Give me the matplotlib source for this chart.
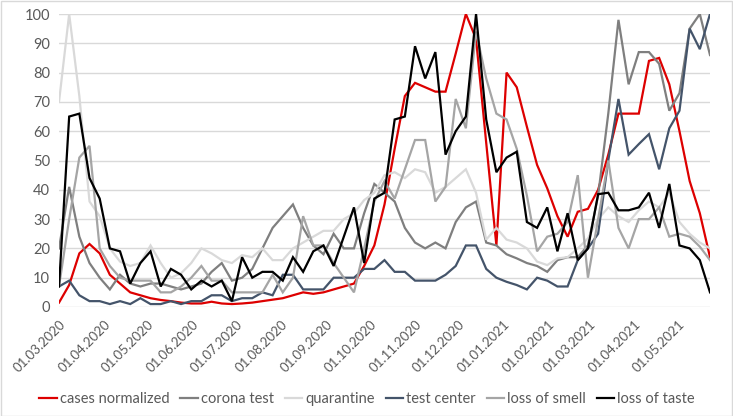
import numpy as np
import pandas as pd
import matplotlib
matplotlib.use("Agg")
import matplotlib.pyplot as plt
import matplotlib.dates as mdates
from matplotlib.patches import Rectangle

dates = pd.date_range("2020-03-01", periods=65, freq="7D")

cases_normalized = [1.5, 7.5, 18.3, 21.5, 18.3, 11, 8, 5, 4, 3, 2.4, 2, 1.5, 1.2, 1.2, 1.8, 1.2, 1.0, 1.2, 1.5,
                    2, 2.5, 3, 4, 5, 4.5, 5, 6, 7, 8, 14, 21, 35, 54, 72, 76.5, 75, 73.5, 73.5, 86.5,
                    100, 91.5, 56, 21, 80, 75, 61.5, 48.5, 40.5, 31, 24, 32.5, 33.5, 40, 52, 66, 66, 66, 84, 85,
                    76, 60, 43, 32, 17]
corona_test = [20, 41, 24, 15, 10, 6, 11, 8, 7, 8, 8, 7, 6, 7, 8, 12, 15, 9, 10, 13,
               20, 27, 31, 35, 27, 21, 18, 25, 20, 20, 32, 42, 39, 36, 27, 22, 20, 22, 20, 29,
               34, 36, 22, 21, 18, 16.6, 15, 14, 12, 16, 17, 17, 21, 38, 66, 98, 76, 87, 87, 83,
               67, 73, 95, 100, 86]
quarantine = [70, 100, 72, 36, 31, 20, 15.5, 14, 15, 21, 15, 10, 11.5, 15, 20, 18.3, 16, 15, 17.7, 17,
              20, 16, 16, 20, 22, 24, 26, 26, 30, 32, 36.5, 39, 45, 46, 44, 47, 46, 39, 41, 44,
              47, 39, 23, 27, 23, 22, 20, 15.5, 14.3, 16.6, 17, 20, 23.4, 30, 34, 31, 29, 33, 36, 34,
              39, 29, 25, 22, 20]
test_center = [7, 9, 4, 2, 2, 1, 2, 1, 3, 1, 1, 2, 1, 2, 2, 4, 4, 2, 3, 3,
               5, 4, 11, 11, 6, 6, 6, 10, 10, 10, 13, 13, 16, 12, 12, 9, 9, 9, 11, 14,
               21, 21, 13, 10, 8.6, 7.5, 6, 10, 9, 7, 7, 16, 20, 25, 50, 71, 52, 55.6, 59, 47,
               61, 67, 95, 88, 100]
loss_of_smell = [7, 30, 51, 55, 20, 14, 10, 9, 9, 9, 5, 5, 7, 10, 14, 9, 9, 5, 5, 5,
                 5, 11, 5, 10, 31, 21, 21, 15, 10, 5, 20, 36, 43, 37, 47, 57, 57, 36, 41, 71,
                 61, 94, 78, 66, 64, 54, 38, 19, 24, 25, 29, 45, 10, 30, 50, 27, 20, 30, 30, 34,
                 24, 25, 24, 20.6, 16]
loss_of_taste = [7, 65, 66, 44, 37, 20, 19, 8, 15, 19, 7, 13, 11, 6, 9, 7, 9, 2, 17, 10,
                 12, 12, 9, 17, 12, 19, 21, 14, 24, 34, 15, 37, 39, 64, 65, 89, 78, 87, 52, 60,
                 65, 100, 64, 46, 51, 53, 29, 27, 34, 19, 32, 16, 20, 38.5, 39, 33, 33, 34, 39, 27,
                 42, 21, 20, 16, 5]

series_names = ["cases normalized", "corona test", "quarantine", "test center", "loss of smell", "loss of taste"]
series_vals = [cases_normalized, corona_test, quarantine, test_center, loss_of_smell, loss_of_taste]
series_colors = ["#dd0000", "#7f7f7f", "#d9d9d9", "#44546a", "#a5a5a5", "#000000"]

plt.rcParams['font.family'] = ['Lato', 'DejaVu Sans']
txt_color = "#595959"

fig = plt.figure(figsize=(7.33, 4.16), dpi=100)
ax = fig.add_axes([59/733, 1-307/416, (710-59)/733, (307-14)/416])

for name, vals, col in zip(series_names, series_vals, series_colors):
    ax.plot(dates, vals, color=col, lw=1.6, label=name, solid_joinstyle='miter')

ax.set_xlim(dates[0], dates[-1])
ax.set_ylim(0, 100)
ax.set_yticks(np.arange(0, 101, 10))
ax.yaxis.grid(True, color="#d9d9d9", lw=1.0)
ax.set_axisbelow(True)
for s in ax.spines.values():
    s.set_visible(False)
ax.xaxis.set_major_locator(mdates.MonthLocator())
ax.xaxis.set_major_formatter(mdates.DateFormatter("%d.%m.%Y"))
ax.tick_params(axis='y', length=0, colors=txt_color, labelsize=10.5, pad=6.5)
ax.tick_params(axis='x', length=0, colors=txt_color, labelsize=9.5, pad=8)
for lab in ax.get_xticklabels():
    lab.set_rotation(45)
    lab.set_ha('right')
    lab.set_va('top')
    lab.set_rotation_mode('anchor')

leg = fig.legend(loc='center', bbox_to_anchor=(367/733, 1-399/416), ncol=6, frameon=False,
                 fontsize=10.5, handlelength=1.2, handletextpad=0.2, columnspacing=0.75, labelcolor=txt_color)

fig.patches.append(Rectangle((0.5/733, 0.5/416), 1-1.5/733, 1-1.5/416, transform=fig.transFigure,
                             fill=False, edgecolor="#d9d9d9", lw=1.0))

fig.savefig("out.png", dpi=100, facecolor="white")
